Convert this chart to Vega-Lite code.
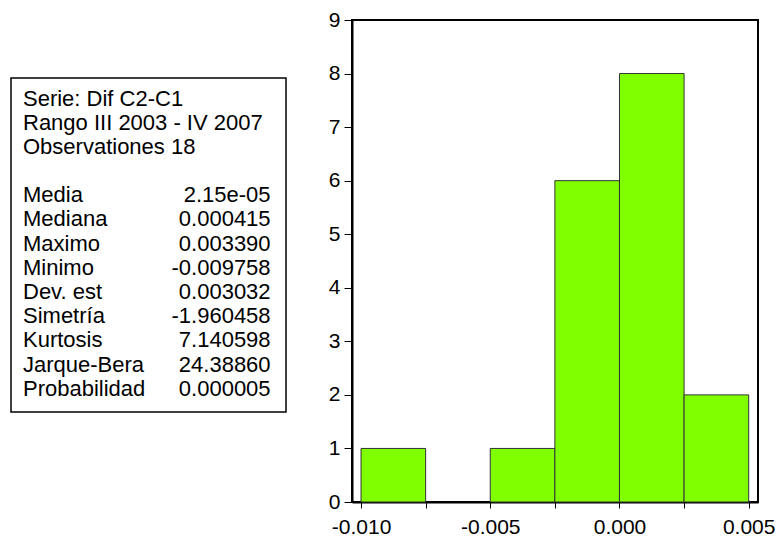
{
  "$schema": "https://vega.github.io/schema/vega-lite/v6.json",
  "padding": {"left": 10, "top": 8, "right": 0, "bottom": 0},
  "background": "white",
  "config": {"font": "Liberation Sans"},
  "bounds": "flush",
  "spacing": 66,
  "datasets": {
    "stats": [
      {"line": 1, "label": "Serie: Dif C2-C1", "value": ""},
      {"line": 2, "label": "Rango III 2003 - IV 2007", "value": ""},
      {"line": 3, "label": "Observationes 18", "value": ""},
      {"line": 5, "label": "Media", "value": "2.15e-05"},
      {"line": 6, "label": "Mediana", "value": "0.000415"},
      {"line": 7, "label": "Maximo", "value": "0.003390"},
      {"line": 8, "label": "Minimo", "value": "-0.009758"},
      {"line": 9, "label": "Dev. est", "value": "0.003032"},
      {"line": 10, "label": "Simetría", "value": "-1.960458"},
      {"line": 11, "label": "Kurtosis", "value": "7.140598"},
      {"line": 12, "label": "Jarque-Bera", "value": "24.38860"},
      {"line": 13, "label": "Probabilidad", "value": "0.000005"}
    ],
    "hist": [
      {"bin_start": -0.01, "bin_end": -0.0075, "count": 1},
      {"bin_start": -0.005, "bin_end": -0.0025, "count": 1},
      {"bin_start": -0.0025, "bin_end": 0.0, "count": 6},
      {"bin_start": 0.0, "bin_end": 0.0025, "count": 8},
      {"bin_start": 0.0025, "bin_end": 0.005, "count": 2}
    ]
  },
  "hconcat": [
    {
      "width": 275,
      "height": 482,
      "view": {"stroke": null},
      "layer": [
        {
          "data": {"values": [{"box": "stats"}]},
          "mark": {"type": "rect", "fill": "white", "stroke": "black", "strokeWidth": 1.5},
          "encoding": {
            "x": {"datum": 0, "type": "quantitative", "scale": {"domain": [0, 1], "nice": false, "zero": false}, "axis": null},
            "x2": {"datum": 1},
            "y": {"datum": 0.153, "type": "quantitative", "scale": {"domain": [-2.244, 17.674], "reverse": true, "nice": false, "zero": false}, "axis": null},
            "y2": {"datum": 13.955}
          }
        },
        {
          "data": {"name": "stats"},
          "mark": {"type": "text", "align": "left", "baseline": "middle", "fontSize": 22, "color": "black"},
          "encoding": {
            "x": {"datum": 0.0436, "type": "quantitative", "scale": {"domain": [0, 1], "nice": false, "zero": false}, "axis": null},
            "y": {"field": "line", "type": "quantitative", "scale": {"domain": [-2.244, 17.674], "reverse": true, "nice": false, "zero": false}, "axis": null},
            "text": {"field": "label"}
          }
        },
        {
          "data": {"name": "stats"},
          "mark": {"type": "text", "align": "right", "baseline": "middle", "fontSize": 22, "color": "black"},
          "encoding": {
            "x": {"datum": 0.944, "type": "quantitative", "scale": {"domain": [0, 1], "nice": false, "zero": false}, "axis": null},
            "y": {"field": "line", "type": "quantitative", "scale": {"domain": [-2.244, 17.674], "reverse": true, "nice": false, "zero": false}, "axis": null},
            "text": {"field": "value"}
          }
        }
      ]
    },
    {
      "width": 406,
      "height": 482,
      "data": {"name": "hist"},
      "view": {"stroke": "black", "strokeWidth": 2},
      "mark": {"type": "rect", "fill": "#80FF00", "stroke": "#333333", "strokeWidth": 1},
      "encoding": {
        "x": {
          "field": "bin_start",
          "type": "quantitative",
          "scale": {"domain": [-0.01035, 0.00536], "nice": false, "zero": false},
          "axis": {
            "title": null,
            "grid": false,
            "values": [-0.01, -0.0075, -0.005, -0.0025, 0, 0.0025, 0.005],
            "format": ".3f",
            "labelExpr": "abs(round(datum.value * 400)) % 2 == 1 ? '' : replace(datum.label, '−', '-')",
            "labelFlush": false,
            "labelOverlap": false,
            "labelFontSize": 21,
            "labelColor": "black",
            "labelPadding": 8,
            "tickSize": 6,
            "tickColor": "black",
            "tickWidth": 1,
            "domainColor": "black",
            "domainWidth": 2
          }
        },
        "x2": {"field": "bin_end"},
        "y": {
          "field": "count",
          "type": "quantitative",
          "scale": {"domain": [0, 9], "nice": false, "zero": true},
          "axis": {
            "title": null,
            "grid": false,
            "values": [0, 1, 2, 3, 4, 5, 6, 7, 8, 9],
            "labelFontSize": 21,
            "labelColor": "black",
            "labelPadding": 4,
            "tickSize": 8,
            "tickColor": "black",
            "tickWidth": 1,
            "domainColor": "black",
            "domainWidth": 2
          }
        },
        "y2": {"datum": 0}
      }
    }
  ]
}
